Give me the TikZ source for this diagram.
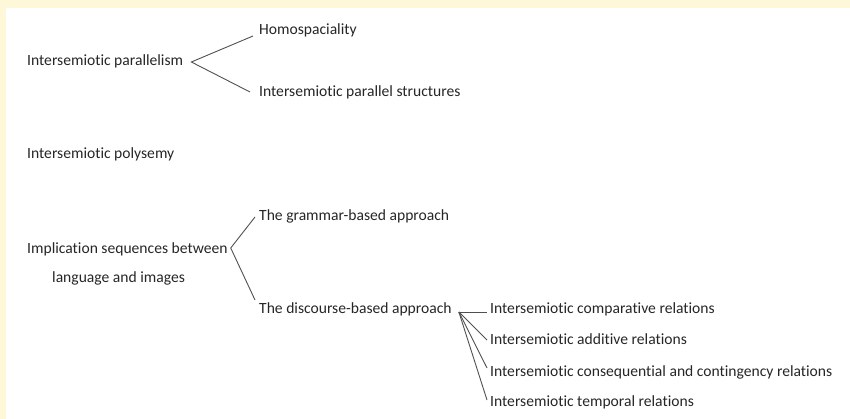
\documentclass[tikz,border=0pt]{standalone}
\usepackage{fontspec}
\setmainfont{Carlito}[Ligatures=NoCommon]
\definecolor{PaleYellow}{HTML}{FFF8D8}
\definecolor{TextGrey}{HTML}{262626}
\definecolor{LineGrey}{HTML}{505050}
\begin{document}
\begin{tikzpicture}
   [x=1pt,y=-1pt,
   label/.style={anchor=west,inner sep=0pt,text height=10pt,text depth=3pt,
                 text=TextGrey,font=\fontsize{15.6}{18}\selectfont},
   branch/.style={LineGrey,line width=0.9pt}]
    \useasboundingbox (0,0) rectangle (850,419);
    \fill[PaleYellow] (0,0) rectangle (850,8);
    \fill[PaleYellow] (0,0) rectangle (6,419);
    % first group
    \node[label] (par) at (27,62) {Intersemiotic parallelism};
    \node[label] (homo) at (259,31) {Homospaciality};
    \node[label] (pstruct) at (259,93) {Intersemiotic parallel structures};
    \node[label] (poly) at (27,155) {Intersemiotic polysemy};
    % implication sequences
    \node[label] (impl) at (27,250) {Implication sequences between};
    \node[label] (lang) at (52,279) {language and images};
    \node[label] (gram) at (259,217) {The grammar-based approach};
    \node[label] (disc) at (259,310) {The discourse-based approach};
    \node[label] (comp) at (490,310) {Intersemiotic comparative relations};
    \node[label] (add) at (490,341) {Intersemiotic additive relations};
    \node[label] (cons) at (490,373) {Intersemiotic consequential and contingency relations};
    \node[label] (temp) at (490,403) {Intersemiotic temporal relations};
    \draw[branch] ([xshift=-6pt,yshift=-5pt]homo.west) -- ([xshift=8pt]par.east)
                  -- ([xshift=-9pt,yshift=1pt]pstruct.west);
    \draw[branch] ([xshift=-4pt]gram.west) -- ([xshift=3pt,yshift=2pt]impl.east)
                  -- ([xshift=-4pt,yshift=10pt]disc.west);
    \foreach \leaf/\dy in {comp/-2,add/1,cons/5,temp/3}
      \draw[branch] ([xshift=7pt,yshift=-2pt]disc.east) -- ([xshift=-3pt,yshift=\dy pt]\leaf.west);
\end{tikzpicture}
\end{document}
